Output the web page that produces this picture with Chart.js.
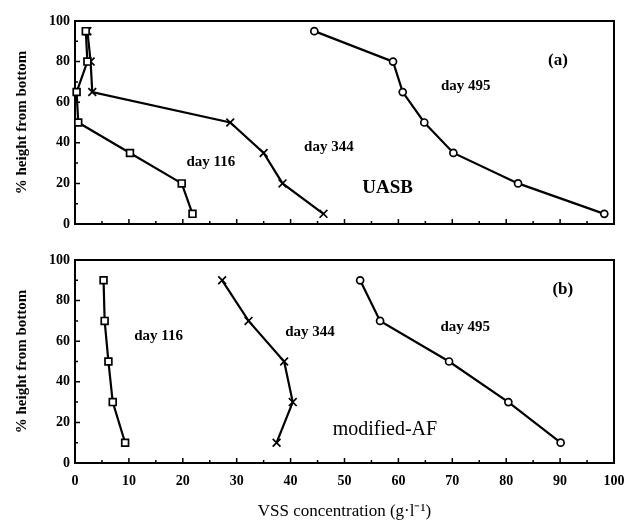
<!DOCTYPE html>
<html><head><meta charset="utf-8">
<script src="https://cdn.jsdelivr.net/npm/chart.js@4.4.1/dist/chart.umd.min.js"></script>
<style>
html,body{margin:0;padding:0;background:#fff;}
#wrap{position:relative;width:627px;height:522px;overflow:hidden;}
.panel{position:absolute;left:0;width:627px;}
</style></head><body>
<div id="wrap">
<div class="panel" style="top:0;height:240px"><canvas id="cA"></canvas></div>
<div class="panel" style="top:240px;height:282px"><canvas id="cB"></canvas></div>
</div>
<script>
// ---- Panel (a): UASB ----
const heightA = [5, 20, 35, 50, 65, 80, 95];
const vssA116 = [21.8, 19.8, 10.2, 0.6, 0.3, 2.3, 2.0];
const vssA344 = [46.1, 38.5, 35.0, 28.8, 3.2, 2.9, 2.3];
const vssA495 = [98.2, 82.2, 70.2, 64.8, 60.8, 59.0, 44.4];
// ---- Panel (b): modified-AF ----
const heightB = [10, 30, 50, 70, 90];
const vssB116 = [9.3, 7.0, 6.2, 5.5, 5.3];
const vssB344 = [37.4, 40.4, 38.8, 32.2, 27.3];
const vssB495 = [90.1, 80.4, 69.4, 56.6, 52.9];
// ---- axes ----
const xTickValues = [0, 10, 20, 30, 40, 50, 60, 70, 80, 90, 100];
const yTickValues = [0, 20, 40, 60, 80, 100];
const seriesNames = ['day 116', 'day 344', 'day 495'];

const SERIF = "'Liberation Serif', 'Times New Roman', serif";

const notesA = [
  {text: 'day 116', x: 25.2, y: 30.5, font: 'bold 15px ' + SERIF},
  {text: 'day 344', x: 47.1, y: 38, font: 'bold 15px ' + SERIF},
  {text: 'day 495', x: 72.5, y: 68, font: 'bold 15px ' + SERIF},
  {text: 'UASB', x: 58, y: 17.7, font: 'bold 19px ' + SERIF},
  {text: '(a)', x: 89.6, y: 80.3, font: 'bold 17px ' + SERIF}
];
const notesB = [
  {text: 'day 116', x: 15.5, y: 62.6, font: 'bold 15px ' + SERIF},
  {text: 'day 344', x: 43.6, y: 64.5, font: 'bold 15px ' + SERIF},
  {text: 'day 495', x: 72.4, y: 66.7, font: 'bold 15px ' + SERIF},
  {text: 'modified-AF', x: 57.5, y: 16.3, font: '20px ' + SERIF},
  {text: '(b)', x: 90.5, y: 85.5, font: 'bold 17px ' + SERIF}
];

function pts(xs, ys) { return xs.map((v, i) => ({x: v, y: ys[i]})); }

const framePlugin = {
  id: 'frame',
  beforeDatasetsDraw(chart) {
    const {ctx, chartArea: a, scales: {x, y}} = chart;
    ctx.save();
    ctx.strokeStyle = '#000';
    ctx.lineWidth = 2;
    ctx.strokeRect(a.left, a.top, a.right - a.left, a.bottom - a.top);
    ctx.lineWidth = 1.5;
    ctx.beginPath();
    for (let v = 0; v <= 100; v += 5) {
      const px = x.getPixelForValue(v);
      const len = v % 10 === 0 ? 5 : 3;
      ctx.moveTo(px, a.bottom); ctx.lineTo(px, a.bottom - len);
    }
    for (let v = 0; v <= 100; v += 10) {
      const py = y.getPixelForValue(v);
      const len = v % 20 === 0 ? 5 : 3;
      ctx.moveTo(a.left, py); ctx.lineTo(a.left + len, py);
    }
    ctx.stroke();
    ctx.restore();
  },
  afterDatasetsDraw(chart, args, opts) {
    const {ctx, scales: {x, y}} = chart;
    ctx.save();
    ctx.fillStyle = '#000';
    ctx.textAlign = 'center';
    ctx.textBaseline = 'middle';
    (opts.notes || []).forEach(n => {
      ctx.font = n.font;
      ctx.fillText(n.text, x.getPixelForValue(n.x), y.getPixelForValue(n.y));
    });
    ctx.restore();
  }
};

function ds(label, data, style, radius) {
  return {
    label, data, showLine: true, clip: false, tension: 0,
    borderColor: '#000', borderWidth: 2.2,
    pointStyle: style, pointRadius: radius, pointHoverRadius: radius,
    pointBackgroundColor: '#fff', pointBorderColor: '#000', pointBorderWidth: 1.7
  };
}

function makeChart(id, datasets, showX, notes, topPad, xHeight) {
  return new Chart(document.getElementById(id), {
    type: 'scatter',
    data: {datasets},
    plugins: [framePlugin],
    options: {
      responsive: true, maintainAspectRatio: false, animation: false,
      devicePixelRatio: 1,
      layout: {padding: {top: topPad, right: 13, bottom: 0, left: 0}},
      plugins: {legend: {display: false}, tooltip: {enabled: false}, frame: {notes}},
      scales: {
        x: {
          type: 'linear', min: 0, max: 100,
          afterBuildTicks: s => { s.ticks = xTickValues.map(v => ({value: v})); },
          ticks: {display: showX, color: '#000', padding: 10,
                  font: {family: SERIF, size: 14, weight: 'bold'}, maxRotation: 0},
          grid: {display: false, drawTicks: false}, border: {display: false},
          title: {display: showX, text: 'VSS concentration (g·l⁻¹)', color: '#000',
                  font: {family: SERIF, size: 17}, padding: {top: 0, bottom: 0}},
          afterFit: s => { s.height = xHeight; s.paddingLeft = 0; s.paddingRight = 0; }
        },
        y: {
          type: 'linear', min: 0, max: 100,
          afterBuildTicks: s => { s.ticks = yTickValues.map(v => ({value: v})); },
          ticks: {color: '#000', padding: 5, font: {family: SERIF, size: 14, weight: 'bold'}},
          grid: {display: false, drawTicks: false}, border: {display: false},
          title: {display: true, text: '% height from bottom', color: '#000',
                  font: {family: SERIF, size: 15, weight: 'bold'}, padding: {top: 13, bottom: 0}},
          afterFit: s => { s.width = 75; s.paddingTop = 0; s.paddingBottom = 0; }
        }
      }
    }
  });
}

makeChart('cA', [
  ds(seriesNames[0], pts(vssA116, heightA), 'rect', 4.8),
  ds(seriesNames[1], pts(vssA344, heightA), 'crossRot', 5.5),
  ds(seriesNames[2], pts(vssA495, heightA), 'circle', 3.5)
], false, notesA, 21, 16);

makeChart('cB', [
  ds(seriesNames[0], pts(vssB116, heightB), 'rect', 4.8),
  ds(seriesNames[1], pts(vssB344, heightB), 'crossRot', 5.5),
  ds(seriesNames[2], pts(vssB495, heightB), 'circle', 3.5)
], true, notesB, 20, 59);
</script>
</body></html>
